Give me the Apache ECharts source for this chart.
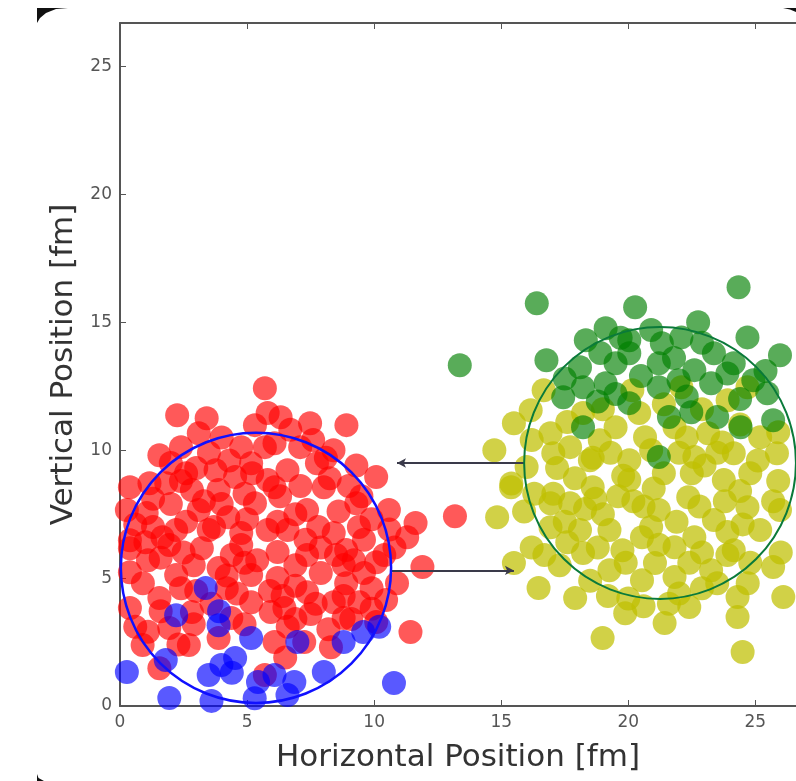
<!DOCTYPE html>
<html>
<head>
<meta charset="utf-8">
<script src="https://cdn.jsdelivr.net/npm/echarts@6/dist/echarts.min.js"></script>
<style>
  html, body { margin: 0; padding: 0; background: #fff; }
  #chart { width: 796px; height: 781px; }
</style>
</head>
<body>
<div id="chart"></div>
<script>
// tick labels on both axes
const xTicks = [0, 5, 10, 15, 20, 25]
const yTicks = [0, 5, 10, 15, 20, 25]

// points, [x, y] in fm
const redPoints = [
  [5.70, 12.42], [2.25, 11.37], [3.41, 11.25], [5.81, 11.45], [6.32, 11.29], [7.48, 11.05], [8.91, 10.98], [5.31, 10.98],
  [3.10, 10.66], [2.40, 10.12], [1.55, 9.80], [4.77, 10.12], [5.70, 10.12], [6.08, 10.27], [7.09, 10.12], [5.16, 9.49],
  [6.59, 9.22], [7.75, 9.49], [3.76, 9.22], [2.60, 9.10], [7.6, 10.4], [8.4, 10.0], [4.3, 9.6], [3.5, 9.9],
  [1.16, 8.71], [0.39, 8.55], [1.82, 8.71], [2.83, 8.44], [3.88, 8.44], [4.53, 8.95], [5.81, 8.83], [6.08, 8.55],
  [8.02, 8.55], [10.08, 8.95], [9.0, 8.6], [4.9, 8.3], [3.3, 8.0], [2.4, 8.8], [8.25, 8.9], [9.3, 9.4],
  [0.27, 7.66], [1.05, 7.54], [3.10, 7.66], [4.26, 7.38], [5.31, 7.93], [7.36, 7.66], [9.30, 7.93], [10.58, 7.66],
  [11.63, 7.15], [6.9, 7.5], [7.8, 7.0], [8.6, 7.6], [9.9, 7.3], [2.0, 7.9], [4.0, 7.9],
  [2.21, 6.88], [3.49, 6.88], [4.77, 6.76], [5.81, 6.88], [1.67, 6.60], [0.39, 6.48], [6.59, 6.88], [8.41, 6.76],
  [9.6, 6.5], [10.6, 6.9], [1.3, 7.0],
  [0.39, 6.17], [1.94, 6.29], [3.22, 6.17], [4.77, 6.29], [6.20, 6.02], [7.36, 5.90], [2.5, 6.0], [1.6, 5.8],
  [10.4, 5.9], [4.4, 5.9], [5.4, 5.7],
  [0.39, 5.23], [2.21, 5.12], [3.88, 5.39], [5.16, 5.12], [8.80, 5.51], [10.08, 5.62], [11.90, 5.43], [6.2, 5.0],
  [7.9, 5.2], [9.6, 5.2], [1.1, 5.7], [0.9, 4.8],
  [1.55, 4.22], [0.39, 3.83], [2.83, 3.67], [5.16, 4.06], [5.93, 3.67], [4.38, 3.44], [7.36, 4.45], [8.41, 4.06],
  [6.47, 3.83], [9.42, 4.06], [10.47, 4.14], [8.80, 3.44], [6.9, 4.7], [8.9, 4.8], [3.0, 4.5], [4.6, 4.4],
  [5.9, 4.5], [10.9, 4.8],
  [1.94, 3.05], [0.89, 2.38], [2.71, 2.38], [3.88, 2.66], [10.08, 3.28], [11.43, 2.89], [7.25, 2.50], [6.08, 2.50],
  [7.5, 3.6], [8.2, 3.0], [9.1, 3.4], [4.9, 3.2], [6.6, 3.1], [9.9, 3.8],
  [1.55, 1.48], [5.70, 1.21], [2.3, 2.4], [8.3, 2.3], [6.5, 1.9], [13.18, 7.42],
  [1.0, 6.4], [2.9, 5.5], [4.2, 5.1], [4.9, 5.6], [6.9, 5.5], [7.9, 6.2], [8.9, 6.1], [9.4, 7.0],
  [6.3, 8.2], [7.1, 8.6], [5.2, 9.1], [4.0, 10.5], [6.7, 10.8], [8.1, 9.7], [9.5, 8.2], [3.0, 9.3],
  [2.0, 9.5], [1.3, 8.1], [0.6, 7.1], [2.6, 7.2], [3.7, 7.0], [5.0, 7.3], [6.2, 7.2], [7.3, 6.5],
  [8.5, 5.9], [9.2, 5.7], [1.6, 3.7], [2.4, 4.6], [3.6, 4.0], [4.2, 4.6], [6.4, 4.3], [7.7, 4.0],
  [8.8, 4.3], [9.9, 4.6], [10.8, 6.2], [11.3, 6.6], [2.9, 3.2], [6.9, 3.4], [0.6, 3.1], [1.1, 2.9]
]

const bluePoints = [
  [3.37, 4.61], [2.21, 3.55], [3.88, 3.16], [5.16, 2.66], [0.27, 1.33], [3.99, 1.60], [3.49, 1.21], [5.43, 0.94],
  [1.94, 0.31], [4.53, 1.88], [6.98, 2.50], [8.80, 2.50], [9.57, 2.89], [8.02, 1.33], [6.86, 0.94], [6.08, 1.21],
  [10.78, 0.90], [6.59, 0.43], [3.6, 0.2], [1.8, 1.8], [3.9, 3.7], [5.3, 0.3], [10.2, 3.1], [4.4, 1.3]
]

const greenPoints = [
  [16.40, 15.74], [20.27, 15.59], [24.34, 16.37], [13.37, 13.32], [16.78, 13.52], [22.75, 15.0], [24.69, 14.41],
  [25.97, 13.71], [19.11, 14.77], [18.33, 14.30], [20.04, 14.30], [21.32, 14.18], [22.09, 14.41], [23.37, 13.79],
  [24.15, 13.40], [18.10, 13.24], [19.50, 13.40], [21.20, 13.40], [22.60, 13.13], [18.22, 12.46], [19.11, 12.62],
  [21.20, 12.46], [23.26, 12.62], [17.44, 12.07], [20.04, 11.84], [22.48, 11.48], [25.47, 12.23], [25.70, 11.17],
  [24.42, 10.90], [21.20, 9.73], [18.22, 10.90], [21.98, 12.73], [24.92, 12.73], [20.04, 13.79],
  [19.7, 14.4], [20.9, 14.7], [22.9, 14.2], [18.9, 13.8], [21.8, 13.6], [23.9, 13.0], [20.5, 12.9], [22.3, 12.1],
  [24.4, 12.0], [19.5, 12.2], [17.5, 12.8], [18.8, 11.9], [21.6, 11.3], [25.4, 13.1], [23.5, 11.3]
]

const yellowPoints = [
  [14.84, 7.38], [15.50, 5.59], [16.47, 4.61], [17.91, 4.22], [18.99, 2.66], [19.88, 3.63], [21.43, 3.24],
  [22.40, 3.87], [24.30, 4.26], [24.30, 3.48], [24.50, 2.11], [25.70, 5.43], [15.39, 8.55], [16.94, 6.99],
  [18.22, 5.98], [19.26, 5.31], [20.54, 4.92], [21.82, 5.04], [23.26, 5.31], [24.15, 6.09], [25.19, 6.88],
  [20.54, 6.60], [21.82, 6.21], [19.26, 6.88], [17.71, 7.93], [18.60, 8.55], [20.04, 8.83], [21.20, 7.66],
  [22.36, 8.16], [23.37, 7.27], [24.69, 7.77], [25.97, 7.66], [23.76, 8.83], [16.94, 7.93], [18.10, 6.88],
  [22.60, 6.60], [21.05, 5.59], [19.77, 6.09], [26.1, 4.26],
  [14.73, 10.0], [15.50, 11.05], [16.67, 12.34], [16.16, 11.56], [16.94, 10.66], [18.22, 11.45], [18.88, 10.39],
  [20.16, 12.34], [20.43, 11.45], [20.66, 10.51], [21.82, 10.90], [22.09, 12.46], [23.14, 10.66], [23.91, 11.95],
  [24.69, 12.46], [25.19, 10.51], [25.85, 9.88], [24.15, 9.88], [22.60, 9.73], [20.04, 9.61], [18.49, 9.61],
  [17.05, 9.88], [16.0, 9.34], [19.50, 10.90], [17.71, 10.12],
  [15.4, 8.7], [17.05, 8.3], [18.6, 9.7], [20.2, 8.0], [22.5, 9.1], [23.8, 8.0], [25.1, 9.6], [25.7, 8.0],
  [19.0, 7.5], [20.9, 7.0], [22.9, 6.0], [23.5, 4.8], [20.0, 4.2], [22.0, 4.4], [24.8, 5.6], [18.5, 4.9],
  [17.3, 5.5], [21.4, 9.1], [19.8, 9.0], [23.0, 9.4], [24.4, 8.4], [17.9, 8.9], [16.3, 8.3], [16.2, 6.2], [15.9, 7.6],
  [17.5, 7.2], [18.3, 7.7], [19.6, 8.2], [20.6, 7.8], [21.9, 7.2], [22.8, 7.8], [23.9, 6.8], [24.5, 7.1],
  [19.9, 5.6], [21.2, 6.3], [22.4, 5.6], [23.9, 5.9], [18.8, 6.2], [17.6, 6.4], [16.7, 5.9], [17.2, 9.3],
  [18.7, 8.1], [21.0, 8.5], [22.0, 9.9], [23.5, 9.9], [24.8, 9.1], [19.3, 9.9], [20.9, 10.0], [22.3, 10.5],
  [23.7, 10.3], [24.4, 11.0], [21.4, 11.8], [19.0, 11.6], [17.6, 11.1], [16.2, 10.4], [22.9, 11.6], [25.9, 10.7],
  [25.9, 8.8], [26.0, 6.0], [20.6, 3.9], [22.9, 4.6], [24.7, 4.8], [19.2, 4.3], [21.6, 4.0]
]

// [centre x, centre y, radius]
const blueCircle = [[5.35, 5.4, 5.3]]
const greenCircle = [[21.25, 9.5, 5.33]]

// arrows [from, to]
const arrows = [
  [[15.9, 9.5], [10.9, 9.5]],
  [[10.7, 5.3], [15.5, 5.3]]
]

const chart = echarts.init(document.getElementById('chart'))

function ring(color, width) {
  return function (params, api) {
    const c = api.coord([api.value(0), api.value(1)])
    const s = api.size([api.value(2), api.value(2)])
    return {
      type: 'circle',
      shape: { cx: c[0], cy: c[1], r: (s[0] + s[1]) / 2 },
      style: { fill: 'none', stroke: color, lineWidth: width }
    }
  }
}

function scatter(data, color, alpha) {
  return {
    type: 'scatter',
    data: data,
    symbolSize: 24,
    itemStyle: { color: color, opacity: alpha },
    silent: true
  }
}

const tickLabel = { color: '#555', fontSize: 17, fontFamily: 'DejaVu Sans' }
const axisName = { color: '#333', fontSize: 31, fontFamily: 'DejaVu Sans' }

chart.setOption({
  animation: false,
  backgroundColor: '#fff',
  grid: { left: 120, top: 23, width: 686, height: 683 },
  xAxis: [{
    type: 'value', min: 0, max: 26.6, interval: 5,
    name: 'Horizontal Position [fm]', nameLocation: 'middle', nameGap: 36,
    nameTextStyle: axisName,
    axisLine: { onZero: false, lineStyle: { color: '#555', width: 2 } },
    axisTick: { inside: true, length: 6, lineStyle: { color: '#555' } },
    axisLabel: Object.assign({ margin: 8, showMaxLabel: false,
      formatter: v => xTicks.includes(v) ? String(v) : '' }, tickLabel),
    splitLine: { show: false }
  }, {
    type: 'value', min: 0, max: 26.6, interval: 5, position: 'top',
    axisLine: { onZero: false, lineStyle: { color: '#555', width: 2 } },
    axisTick: { inside: true, length: 6, lineStyle: { color: '#555' } },
    axisLabel: { show: false },
    splitLine: { show: false }
  }],
  yAxis: [{
    type: 'value', min: 0, max: 26.7, interval: 5,
    name: 'Vertical Position [fm]', nameLocation: 'middle', nameGap: 40,
    nameTextStyle: axisName,
    axisLine: { show: true, onZero: false, lineStyle: { color: '#555', width: 2 } },
    axisTick: { show: true, inside: true, length: 6, lineStyle: { color: '#555' } },
    axisLabel: Object.assign({ margin: 8, showMaxLabel: false,
      formatter: v => yTicks.includes(v) ? String(v) : '' }, tickLabel),
    splitLine: { show: false }
  }],
  series: [
    scatter(redPoints, '#ff0000', 0.65),
    scatter(bluePoints, '#0000ff', 0.65),
    scatter(yellowPoints, '#bfbf00', 0.72),
    scatter(greenPoints, '#008000', 0.65),
    {
      type: 'custom', data: blueCircle, renderItem: ring('#1010ff', 2.5),
      encode: { x: 0, y: 1 }, silent: true, z: 5
    },
    {
      type: 'custom', data: greenCircle, renderItem: ring('#0a7a3a', 2),
      encode: { x: 0, y: 1 }, silent: true, z: 5
    },
    {
      type: 'line', data: [], silent: true, z: 6,
      markLine: {
        silent: true, animation: false,
        symbol: ['none', 'arrow'], symbolSize: [7, 9],
        label: { show: false },
        lineStyle: { color: '#3a3a4a', width: 2, type: 'solid' },
        data: arrows.map(a => [{ coord: a[0] }, { coord: a[1] }])
      }
    }
  ],
  graphic: [
    { type: 'polygon', shape: { points: [[37, 8], [68, 8], [56, 9], [46, 13], [40, 18], [37, 23]] }, style: { fill: '#111' } },
    { type: 'polygon', shape: { points: [[783, 8], [796, 8], [796, 12], [790, 9.5]] }, style: { fill: '#111' } },
    { type: 'polygon', shape: { points: [[37, 774], [38.5, 778], [44, 781], [37, 781]] }, style: { fill: '#111' } }
  ]
})
</script>
</body>
</html>
